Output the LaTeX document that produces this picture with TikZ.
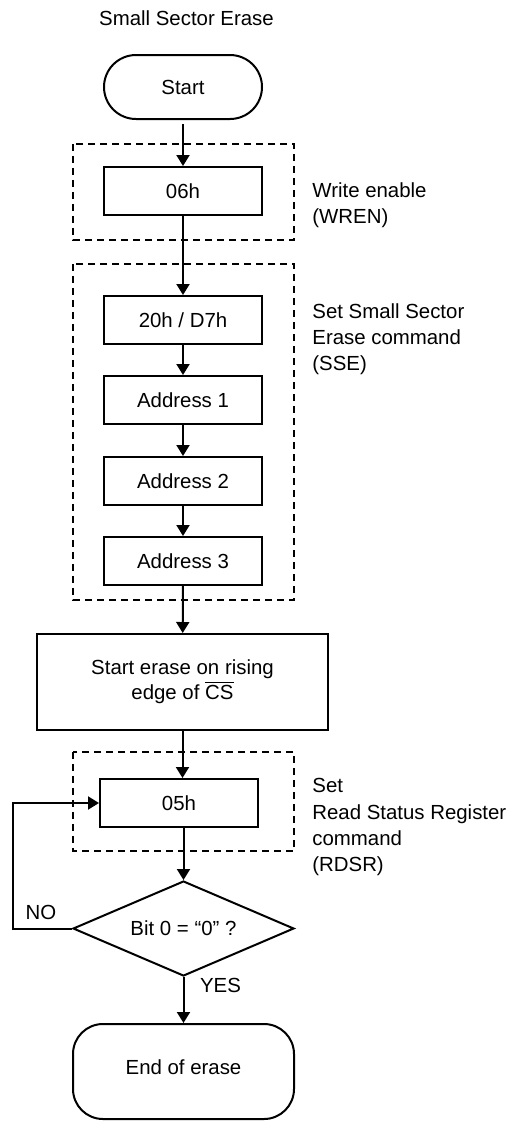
\documentclass[tikz,border=0pt]{standalone}
\usepackage{fontspec}
\setmainfont{Liberation Sans}
\usepackage{tikz}
\usetikzlibrary{calc}
\usetikzlibrary{arrows.meta}
\usetikzlibrary{shapes.geometric}
\tikzset{
 box/.style={draw, line width=1pt, minimum width=79pt, minimum height=24pt, inner sep=0},
 term/.style={box, rounded corners=16pt, minimum height=32pt},
 group/.style={draw, line width=1pt, dash pattern=on 3.5pt off 2.5pt},
 note/.style={anchor=north west, align=left, inner sep=0, font=\fontsize{10.2}{13.2}\selectfont},
 flow/.style={line width=1pt, -{Triangle[length=5.5pt,width=6.5pt]}}
}

\begin{document}
\begin{tikzpicture}[x=0.5pt, y=-0.5pt, font=\fontsize{10.2}{12.5}\selectfont]
\useasboundingbox (0,0) rectangle (531,1121);
\node[anchor=base] (title) at (186.5,25) {Small Sector Erase};
\node[term] (start) at (183,87) {Start};

\draw[group] (73,144) rectangle (294,240);
\node[box] (wren) at (183,191) {06h};
\node[note] (wrenlbl) at (312,182) {Write enable\\(WREN)};

\draw[group] (73,264) rectangle (294,600);
\node[box] (sse) at (183,320) {20h / D7h};
\node[box] (adr1) at (183,400) {Address 1};
\node[box] (adr2) at (183,481) {Address 2};
\node[box] (adr3) at (183,561) {Address 3};
\node[note] (sselbl) at (312,303) {Set Small Sector\\Erase command\\(SSE)};

\node[box, minimum width=145.5pt, minimum height=48pt, align=center] (erase) at (182.5,682) {Start erase on rising\\edge of $\overline{\mbox{CS}}$};

\draw[group] (73,752) rectangle (294,851);
\node[box] (rdsr) at (179,803) {05h};
\node[note] (rdsrlbl) at (312,778) {Set\\Read Status Register\\command\\(RDSR)};

\node[draw, line width=1pt, shape=diamond, aspect=2.3, inner sep=0, minimum width=110.5pt, minimum height=47.5pt] (dec) at (183.5,928.5) {Bit 0 = “0” ?};
\node[anchor=base] (no) at (41,919) {NO};
\node[anchor=base] (yes) at (220.5,992) {YES};

\node[term, minimum width=110.5pt, minimum height=47.5pt, rounded corners=15pt, text depth=4.5pt] (end) at (183.5,1071.5) {End of erase};

\draw[flow, shorten <=2pt] (start) -- (wren);
\draw[flow] (wren) -- (sse);
\draw[flow] (sse) -- (adr1);
\draw[flow] (adr1) -- (adr2);
\draw[flow] (adr2) -- (adr3);
\draw[flow] (adr3) -- (erase);
\draw[flow] (erase.south) -- (erase.south |- rdsr.north);
\draw[flow] (rdsr.south -| dec.north) -- (dec.north);
\draw[flow] (dec) -- (end);
\draw[flow] (dec.west) -- ++(-59,0) |- (rdsr.west);
\end{tikzpicture}
\end{document}
